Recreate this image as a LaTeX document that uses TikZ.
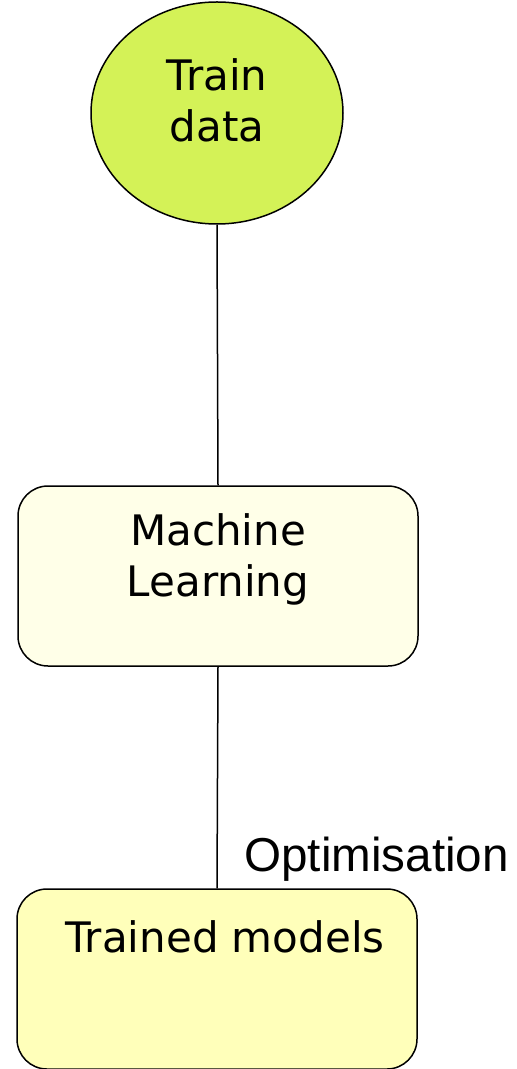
\documentclass[tikz,border=0pt]{standalone}
\usepackage{fontspec}
\setmainfont{DejaVu Sans}
\newfontfamily\optfont{Liberation Sans}
\usetikzlibrary{positioning,shapes.geometric}

\definecolor{traingreen}{rgb}{0.83,0.95,0.34}
\definecolor{mlcream}{rgb}{1,1,0.91}
\definecolor{modelyellow}{rgb}{1,1,0.73}

\tikzset{
    databox/.style={draw, line width=0.75pt, ellipse, minimum width=126pt, minimum height=111pt, inner sep=0pt},
    stagebox/.style={draw, line width=0.75pt, rectangle, rounded corners=15pt, minimum width=200pt, minimum height=90pt, inner sep=0pt},
    boxtext/.style={align=center, inner sep=0pt, font=\fontsize{21}{25.5}\selectfont},
    link/.style={draw, line width=0.75pt}
}

\begin{document}
\begin{tikzpicture}[x=0.5pt, y=-0.5pt]
        \useasboundingbox (0,0) rectangle (517,1069);

        \node[databox, fill=traingreen] (traindata) at (217,113) {};
        \node[stagebox, fill=mlcream] (ml) at (218,576) {};
        \node[stagebox, fill=modelyellow] (models) at (217,979) {};

        \node[boxtext] (traintext) at (217,100) {Train\\data};
        \node[boxtext] (mltext) at (218,559) {Machine\\Learning};
        \node[boxtext] (modelstext) at (225,937) {Trained models};

        \draw[link] (traindata.south) -- (ml.north);
        \draw[link] (ml.south) -- (models.north);

        \node[anchor=base west, inner sep=0pt, font=\optfont\fontsize{23.8}{28}\selectfont] (optim) at (244,871) {Optimisation};
    \end{tikzpicture}
\end{document}
